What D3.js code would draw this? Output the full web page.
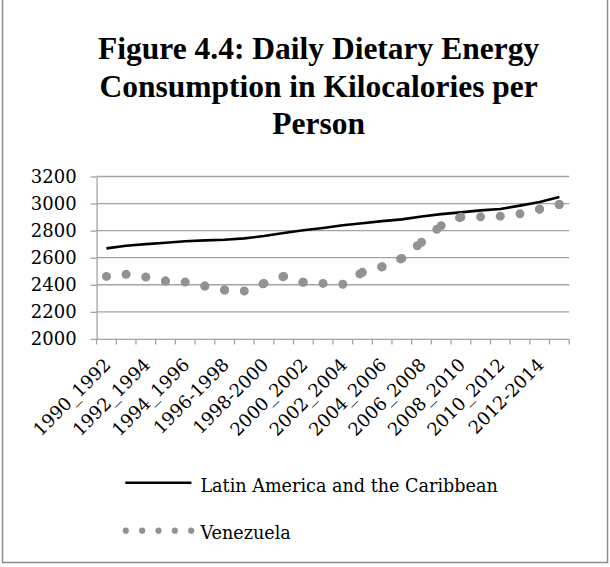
<!DOCTYPE html>
<html>
<head>
<meta charset="utf-8">
<script src="https://cdn.jsdelivr.net/npm/d3@7"></script>
<style>
  body { margin: 0; background: #fff; }
  svg { display: block; }
</style>
</head>
<body>
<svg id="chart" width="610" height="567"></svg>
<script>
// Three-year averaging periods
const categories = [
  "1990_1992", "1991_1993", "1992_1994", "1993_1995", "1994_1996", "1995_1997",
  "1996-1998", "1997-1999", "1998-2000", "1999_2001", "2000_2002", "2001_2003",
  "2002_2004", "2003_2005", "2004_2006", "2005_2007", "2006_2008", "2007_2009",
  "2008_2010", "2009_2011", "2010_2012", "2011_2013", "2012-2014", "2013_2015"
];

// Kilocalories per person per day
const latinAmerica = [
  2669, 2688, 2700, 2710, 2722, 2728, 2733, 2743, 2760, 2783, 2803, 2820,
  2840, 2855, 2870, 2883, 2905, 2922, 2935, 2950, 2960, 2985, 3012, 3048
];
const venezuela = [
  2462, 2477, 2457, 2427, 2420, 2390, 2361, 2354, 2410, 2462, 2418, 2410,
  2404, 2492, 2533, 2595, 2714, 2837, 2900, 2902, 2907, 2924, 2959, 2993
];

const yTicks = [2000, 2200, 2400, 2600, 2800, 3000, 3200];
const titleLines = [
  "Figure 4.4: Daily Dietary Energy",
  "Consumption in Kilocalories per",
  "Person"
];
const seriesNames = ["Latin America and the Caribbean", "Venezuela"];

// every other period gets a label
const labelledCategories = categories.filter((d, i) => i % 2 === 0);

const svg = d3.select("#chart");
const plot = { left: 96.6, right: 569.2, top: 176.5, bottom: 338.9 };
const serif = "'DejaVu Serif', serif";
const gridColor = "#a3a3a3";
const dotColor = "#929292";

const x = d3.scaleBand().domain(categories).range([plot.left, plot.right]).padding(0);
const y = d3.scaleLinear().domain([2000, 3200]).range([plot.bottom, plot.top]);
const cx = d => x(d) + x.bandwidth() / 2;

// outer frame
svg.append("rect")
  .attr("x", 2.5).attr("y", -3)
  .attr("width", 605).attr("height", 565.5)
  .attr("fill", "#fff")
  .attr("stroke", "#8c8c8c").attr("stroke-width", 1.5);

// title
const title = svg.append("text")
  .attr("text-anchor", "middle")
  .attr("font-family", "'Liberation Serif', 'Times New Roman', serif")
  .attr("font-weight", "bold")
  .attr("font-size", 31.5)
  .attr("fill", "#000");
titleLines.forEach((t, i) => {
  title.append("tspan").attr("x", 318.6).attr("y", 59 + i * 37.5).text(t);
});

// horizontal gridlines
svg.append("g")
  .selectAll("line")
  .data(yTicks.filter(v => v > y.domain()[0]))
  .join("line")
  .attr("x1", plot.left).attr("x2", plot.right)
  .attr("y1", d => y(d)).attr("y2", d => y(d))
  .attr("stroke", gridColor).attr("stroke-width", 1.3);

// y axis
const yAxis = svg.append("g")
  .attr("transform", `translate(${plot.left},0)`)
  .call(d3.axisLeft(y).tickValues(yTicks).tickSize(6).tickSizeOuter(0).tickPadding(14).tickFormat(d3.format("d")));
yAxis.select(".domain").attr("stroke", gridColor).attr("stroke-width", 1.3);
yAxis.selectAll(".tick line").attr("stroke", gridColor).attr("stroke-width", 1.3);
yAxis.selectAll(".tick text")
  .attr("font-family", serif).attr("font-size", 18).attr("fill", "#000");

// x axis with boundary ticks between periods
const xAxis = svg.append("g")
  .attr("transform", `translate(0,${plot.bottom})`)
  .call(d3.axisBottom(x).tickValues(labelledCategories).tickSize(0).tickSizeOuter(0));
xAxis.select(".domain").attr("stroke", gridColor).attr("stroke-width", 1.3);
xAxis.selectAll(".tick text")
  .attr("font-family", serif).attr("font-size", 18).attr("fill", "#000")
  .attr("x", 0).attr("y", 0).attr("dy", 0)
  .attr("text-anchor", "end")
  .attr("transform", "translate(5.5,27) rotate(-45)");
xAxis.append("g")
  .selectAll("line")
  .data(d3.range(categories.length + 1))
  .join("line")
  .attr("x1", k => plot.left + k * x.step())
  .attr("x2", k => plot.left + k * x.step())
  .attr("y1", 0).attr("y2", 5.5)
  .attr("stroke", gridColor).attr("stroke-width", 1.3);

// Latin America and the Caribbean: solid black line
const line = d3.line()
  .x((d, i) => cx(categories[i]))
  .y(d => y(d));
svg.append("path")
  .datum(latinAmerica)
  .attr("d", line)
  .attr("fill", "none")
  .attr("stroke", "#000")
  .attr("stroke-width", 2.6)
  .attr("stroke-linejoin", "round");

// Venezuela: round-dot line, dash pattern restarted on each segment
const vPts = venezuela.map((v, i) => [cx(categories[i]), y(v)]);
const vg = svg.append("g")
  .attr("fill", "none")
  .attr("stroke", dotColor)
  .attr("stroke-width", 9)
  .attr("stroke-linecap", "round")
  .attr("stroke-dasharray", "0 20");
vg.selectAll("path")
  .data(d3.pairs(vPts))
  .join("path")
  .attr("d", ([a, b]) => `M${a[0]},${a[1]}L${b[0]},${b[1]}`);
const last = vPts[vPts.length - 1];
svg.append("circle")
  .attr("cx", last[0]).attr("cy", last[1]).attr("r", 4.5)
  .attr("fill", dotColor);

// legend
const legend = svg.append("g");
const legendRows = [
  { name: seriesNames[0], y: 482.8, baseline: 491.5 },
  { name: seriesNames[1], y: 530.7, baseline: 539 }
];
legend.append("line")
  .attr("x1", 125.3).attr("x2", 191.4)
  .attr("y1", legendRows[0].y).attr("y2", legendRows[0].y)
  .attr("stroke", "#000").attr("stroke-width", 2.6);
legend.append("line")
  .attr("x1", 125.8).attr("x2", 191.4)
  .attr("y1", legendRows[1].y).attr("y2", legendRows[1].y)
  .attr("stroke", dotColor).attr("stroke-width", 6.2)
  .attr("stroke-linecap", "round")
  .attr("stroke-dasharray", "0 16.35");
legend.selectAll("text")
  .data(legendRows)
  .join("text")
  .attr("x", 200.4)
  .attr("y", d => d.baseline)
  .attr("font-family", serif).attr("font-size", 17.6).attr("fill", "#000")
  .text(d => d.name);
</script>
</body>
</html>
